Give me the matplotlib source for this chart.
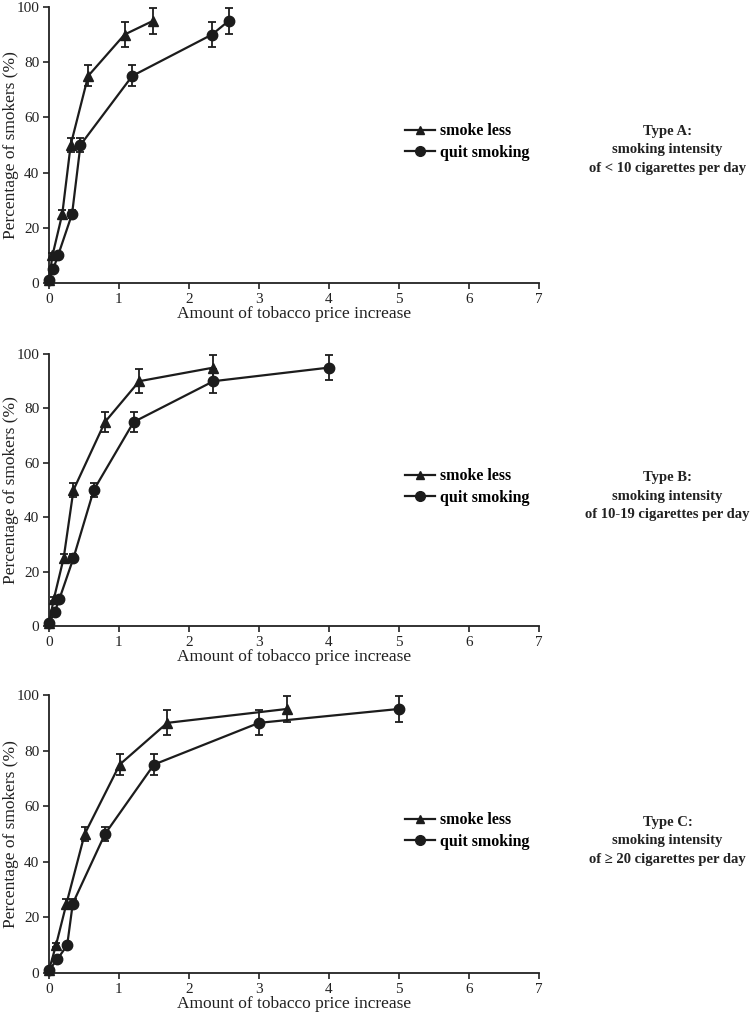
#!/usr/bin/env python3
"""========================================================================
Purpose:
    Percentage of smokers who smoke less / quit smoking versus the amount
    of tobacco price increase, for three smoking intensity types.
========================================================================"""
import numpy as np
import matplotlib
matplotlib.use('Agg')
import matplotlib.pyplot as plt
from matplotlib.lines import Line2D
#-------------------------------------------------------------------------#
# Data                                                                    #
#-------------------------------------------------------------------------#
pct_less    = [1, 10, 25, 50, 75, 90, 95]
pct_quit    = [1, 5, 10, 25, 50, 75, 90, 95]
err_less    = [0.5, 0.8, 1.5, 2.5, 3.8, 4.5, 4.7]
err_quit    = [0.5, 0.8, 0.8, 1.5, 2.5, 3.8, 4.5, 4.7]

xA_less     = [0.0, 0.05, 0.19, 0.31, 0.56, 1.08, 1.49]
xA_quit     = [0.0, 0.06, 0.13, 0.33, 0.45, 1.19, 2.33, 2.57]

xB_less     = [0.0, 0.07, 0.21, 0.35, 0.80, 1.29, 2.35]
xB_quit     = [0.0, 0.08, 0.15, 0.35, 0.64, 1.21, 2.35, 4.0]

xC_less     = [0.0, 0.10, 0.25, 0.51, 1.01, 1.69, 3.40]
xC_quit     = [0.0, 0.12, 0.26, 0.34, 0.80, 1.50, 3.00, 5.00]

type_texts  = ['Type A:\nsmoking intensity\nof < 10 cigarettes per day',
               'Type B:\nsmoking intensity\nof 10-19 cigarettes per day',
               'Type C:\nsmoking intensity\nof \u2265 20 cigarettes per day']
#-------------------------------------------------------------------------#
# Layout                                                                  #
#-------------------------------------------------------------------------#
plt.rcParams['font.family'] = ['Liberation Serif', 'DejaVu Serif']
fig = plt.figure(figsize=(7.5, 10.19), dpi=100)
ink = '#1c1c1c'

panels = [
    ([0.0653, 0.7223, 0.6533, 0.2709], xA_less, xA_quit, 0.853),
    ([0.0653, 0.3857, 0.6533, 0.2669], xB_less, xB_quit, 0.513),
    ([0.0653, 0.0451, 0.6533, 0.2728], xC_less, xC_quit, 0.175),
]

handles = [Line2D([], [], color=ink, marker='^', ms=6, lw=1.6),
           Line2D([], [], color=ink, marker='o', ms=7, lw=1.6)]

for i, (rect, x_less, x_quit, ty) in enumerate(panels):
    ax = fig.add_axes(rect)
    ax.errorbar(x_less, pct_less, yerr=err_less, color=ink,
                marker='^', ms=7, lw=1.6, elinewidth=1.3, capsize=3,
                capthick=1.3, clip_on=False, zorder=3)
    ax.errorbar(x_quit, pct_quit, yerr=err_quit, color=ink,
                marker='o', ms=7.5, lw=1.6, elinewidth=1.3, capsize=3,
                capthick=1.3, clip_on=False, zorder=3)
    ax.set_xlim(0, 7)
    ax.set_ylim(0, 100)
    ax.set_xticks(np.arange(0, 8, 1))
    ax.set_yticks(np.arange(0, 101, 20))
    for s in ['top', 'right']:
        ax.spines[s].set_visible(False)
    for s in ['left', 'bottom']:
        ax.spines[s].set_linewidth(1.3)
        ax.spines[s].set_color('#222222')
    ax.tick_params(direction='out', length=4, width=1.2, labelsize=11,
                   colors='#222222', pad=3)
    ax.set_xlabel('Amount of tobacco price increase', fontsize=12.5,
                  labelpad=0, color='#222222')
    ax.set_ylabel('Percentage of smokers (%)', fontsize=12.5,
                  color='#222222')
    ax.yaxis.set_label_coords(-0.062, 0.5)
    ax.legend(handles, ['smoke less', 'quit smoking'], loc='center left',
              bbox_to_anchor=(0.71, 0.51), frameon=False,
              handlelength=1.9, handletextpad=0.3, borderpad=0,
              labelspacing=0.35, prop={'weight': 'bold', 'size': 11.5})
    fig.text(0.89, ty, type_texts[i], ha='center', va='center',
             fontsize=10.5, fontweight='bold', linespacing=1.55,
             color='#222222')

fig.savefig('out.png', dpi=100)
